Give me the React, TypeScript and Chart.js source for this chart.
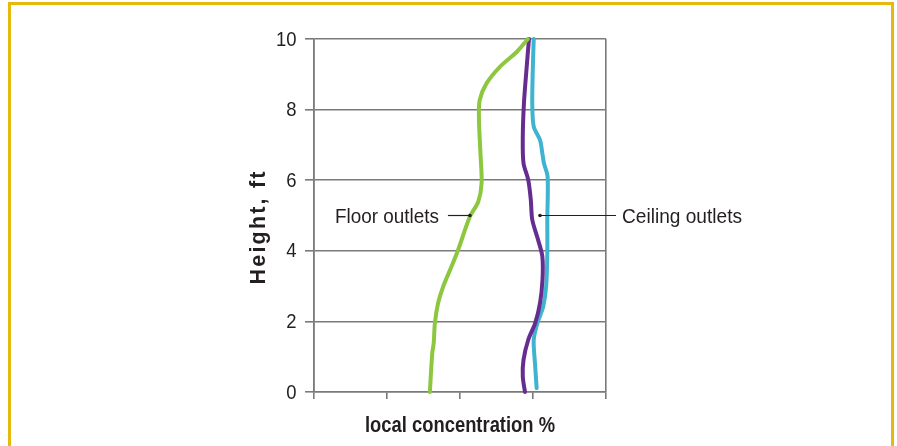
import React, { useEffect, useRef } from "react";
import { Chart, registerables } from "chart.js";

Chart.register(...registerables);

// Floor outlets (green)
const floorX = [1.587, 1.62, 1.64, 1.656, 1.7, 1.77, 1.885, 1.975, 2.136, 2.25, 2.296, 2.28, 2.26, 2.27, 2.365, 2.55, 2.78, 2.93];
const floorY = [0, 1.1, 1.39, 1.95, 2.52, 2.99, 3.56, 4.03, 4.97, 5.39, 5.92, 6.76, 7.71, 8.27, 8.75, 9.22, 9.64, 10];
// Ceiling outlets, run 1 (purple)
const purpleX = [2.89, 2.86, 2.87, 2.935, 3.03, 3.096, 3.13, 3.128, 3.07, 2.99, 2.97, 2.935, 2.87, 2.86, 2.876, 2.91, 2.945];
const purpleY = [0, 0.44, 0.91, 1.48, 1.95, 2.52, 3.18, 3.84, 4.31, 4.88, 5.44, 6.01, 6.48, 7.23, 8.18, 9.12, 10];
// Ceiling outlets, run 2 (cyan)
const cyanX = [3.05, 3.027, 3.01, 3.06, 3.14, 3.18, 3.196, 3.196, 3.2, 3.15, 3.128, 3.096, 3.01, 2.99, 2.997, 3.01];
const cyanY = [0.11, 0.82, 1.48, 1.95, 2.42, 2.99, 3.93, 4.88, 6.1, 6.48, 6.76, 7.14, 7.52, 8.18, 9.12, 10];

const yTicks = [0, 2, 4, 6, 8, 10];
const xTicks = [0, 1, 2, 3, 4];

const labelTexts = ["Floor outlets", "Ceiling outlets"];
const labelAnchorX = [2.136, 3.096];
const labelAnchorY = [5, 5];

const xTitle = "local concentration %";
const yTitle = "Height, ft";

const FONT = '"Liberation Sans", Arial, sans-serif';
const TEXT = "#231f20";
const GRID = "#7a7a7a";

const zip = (xs: number[], ys: number[]) => xs.map((x, i) => ({ x, y: ys[i] }));

// draws text horizontally compressed to a given width (condensed look)
function drawFit(ctx: CanvasRenderingContext2D, text: string, x: number, y: number, align: "left" | "right" | "center", font: string, width: number | null, scale = 0.91) {
  ctx.save();
  ctx.font = font;
  const w = ctx.measureText(text).width;
  const sx = width ? width / w : scale;
  ctx.translate(x, y);
  ctx.scale(sx, 1);
  ctx.textAlign = align;
  ctx.textBaseline = "alphabetic";
  ctx.fillText(text, 0, 0);
  ctx.restore();
}

// draws text with tracking so that it spans a given width
function drawTracked(ctx: any, text: string, x: number, y: number, font: string, width: number) {
  ctx.save();
  ctx.font = font;
  const w = ctx.measureText(text).width;
  const sp = (width - w) / Math.max(1, text.length - 1);
  ctx.textAlign = "left";
  ctx.textBaseline = "alphabetic";
  let cx = x - width / 2;
  for (const ch of text) {
    ctx.fillText(ch, cx, y);
    cx += ctx.measureText(ch).width + sp;
  }
  ctx.restore();
}

export default function App() {
  const ref = useRef<HTMLCanvasElement>(null);
  useEffect(() => {
    const canvas = ref.current!;
    const annot = {
      id: "annot",
      afterDraw(chart: any) {
        const { ctx, scales, chartArea } = chart;
        const xs = scales.x, ys = scales.y;
        ctx.save();
        ctx.fillStyle = TEXT;
        ctx.strokeStyle = TEXT;
        ctx.lineWidth = 1.2;
        // y tick labels
        for (const v of yTicks) {
          const py = ys.getPixelForValue(v);
          drawFit(ctx, String(v), chartArea.left - 17.5, py + 6.5, "right", `20.5px ${FONT}`, null, 0.9);
        }
        // Floor outlets
        {
          const ax = xs.getPixelForValue(labelAnchorX[0]);
          const ay = ys.getPixelForValue(labelAnchorY[0]);
          ctx.beginPath();
          ctx.moveTo(ax - 22, ay);
          ctx.lineTo(ax, ay);
          ctx.stroke();
          ctx.beginPath();
          ctx.arc(ax, ay, 1.8, 0, Math.PI * 2);
          ctx.fill();
          drawFit(ctx, labelTexts[0], ax - 31, ay + 7.5, "right", `20.5px ${FONT}`, 104);
        }
        // Ceiling outlets
        {
          const ax = xs.getPixelForValue(labelAnchorX[1]);
          const ay = ys.getPixelForValue(labelAnchorY[1]);
          ctx.beginPath();
          ctx.moveTo(ax, ay);
          ctx.lineTo(ax + 76, ay);
          ctx.stroke();
          ctx.beginPath();
          ctx.arc(ax, ay, 1.8, 0, Math.PI * 2);
          ctx.fill();
          drawFit(ctx, labelTexts[1], ax + 82, ay + 7.5, "left", `20.5px ${FONT}`, 120);
        }
        // Titles
        drawFit(ctx, xTitle, (chartArea.left + chartArea.right) / 2, 432, "center", `bold 22px ${FONT}`, 190);
        ctx.save();
        ctx.translate(265, 228);
        ctx.rotate(-Math.PI / 2);
        drawTracked(ctx, yTitle, 0, 0, `bold 21.5px ${FONT}`, 113);
        ctx.restore();
        ctx.restore();
      },
    };
    const mk = (data: any, color: string) => ({
      data,
      borderColor: color,
      backgroundColor: color,
      borderWidth: 4,
      pointRadius: 0,
      showLine: true,
      tension: 0.3,
      fill: false,
      clip: false as any,
      borderCapStyle: "round" as const,
      borderJoinStyle: "round" as const,
    });
    const chart = new Chart(canvas, {
      type: "scatter",
      data: {
        datasets: [
          mk(zip(floorX, floorY), "#8dc63f"),
          mk(zip(purpleX, purpleY), "#662d91"),
          mk(zip(cyanX, cyanY), "#3fb3cf"),
        ],
      },
      plugins: [annot],
      options: {
        animation: false,
        responsive: false,
        events: [],
        layout: { padding: { left: 254, right: 291, top: 39, bottom: 34 } },
        plugins: { legend: { display: false }, tooltip: { enabled: false } },
        scales: {
          x: {
            type: "linear",
            min: 0,
            max: 4,
            afterBuildTicks: (s: any) => { s.ticks = xTicks.map((v) => ({ value: v })); },
            afterFit: (s: any) => { s.height = 20; },
            ticks: { callback: () => "", padding: 0 },
            grid: {
              color: (c: any) => (c.tick && (c.tick.value === 0 || c.tick.value === 4) ? GRID : "rgba(0,0,0,0)"),
              tickColor: GRID,
              tickLength: 7,
              lineWidth: 1.6,
            },
            border: { display: true, color: GRID, width: 1.6 },
          },
          y: {
            type: "linear",
            min: 0,
            max: 10,
            afterBuildTicks: (s: any) => { s.ticks = yTicks.map((v) => ({ value: v })); },
            afterFit: (s: any) => { s.width = 60; },
            ticks: { callback: () => "", padding: 0 },
            grid: { color: GRID, tickColor: GRID, tickLength: 9, lineWidth: 1.6 },
            border: { display: true, color: GRID, width: 1.6 },
          },
        },
      },
    });
    return () => chart.destroy();
  }, []);
  return (
    <div style={{ position: "fixed", left: 0, top: 0, width: 897, height: 446, background: "#fff" }}>
      <div
        style={{
          position: "absolute",
          left: 8,
          top: 2,
          width: 886,
          height: 500,
          border: "3px solid #e6b90f",
          boxSizing: "border-box",
        }}
      />
      <canvas ref={ref} width={897} height={446} style={{ position: "absolute", left: 0, top: 0 }} />
    </div>
  );
}
